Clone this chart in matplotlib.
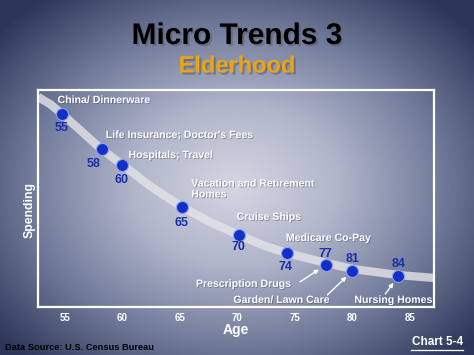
import numpy as np
import matplotlib
matplotlib.use("Agg")
import matplotlib.pyplot as plt
import matplotlib.patheffects as pe
from matplotlib.colors import LinearSegmentedColormap

# ---- data ----
ages = [55, 58, 60, 65, 70, 74, 77, 81, 84]
age_pos = [54.7, 58.2, 60.0, 65.2, 70.1, 74.3, 77.7, 80.0, 84.0]
spending = [88.9, 72.8, 65.4, 46.1, 33.2, 24.9, 19.4, 16.6, 14.3]
items = ["China/ Dinnerware", "Life Insurance; Doctor's Fees", "Hospitals; Travel",
         "Vacation and Retirement\nHomes", "Cruise Ships", "Medicare Co-Pay",
         "Prescription Drugs", "Garden/ Lawn Care", "Nursing Homes"]
trend_age = [52.65, 53.7, 54.65, 56.3, 58.13, 60.04, 62.39, 65.17, 67.6, 70.13,
             72.39, 74.3, 77.7, 80.04, 84.04, 87.09]
trend_spend = [96.8, 93.5, 89.4, 81.6, 72.8, 65.4, 55.8, 46.1, 39.2, 33.2,
               28.1, 24.9, 20.3, 17.5, 14.7, 13.4]
xticks = [55, 60, 65, 70, 75, 80, 85]

W, H = 474, 355
fig = plt.figure(figsize=(W / 100, H / 100), dpi=100)

# background radial gradient
bg = fig.add_axes([0, 0, 1, 1])
yy, xx = np.mgrid[0:H, 0:W]
r = np.sqrt(((xx - 235) / 310.0) ** 2 + ((yy - 185) / 240.0) ** 2)
r = np.clip(r, 0, 1)
cmap = LinearSegmentedColormap.from_list("bg", ["#d4d6e2", "#b0b5ca", "#707a9a", "#2c3658"])
bg.imshow(r, cmap=cmap, aspect="auto", extent=[0, W, H, 0], vmin=0, vmax=1)
bg.set_xlim(0, W)
bg.set_ylim(H, 0)
bg.axis("off")

ax = fig.add_axes([38 / W, 1 - 307 / H, 396 / W, 217 / H])
ax.set_facecolor("none")
ax.set_xlim(52.65, 87.1)
ax.set_ylim(0, 100)
for s in ax.spines.values():
    s.set_color("white")
    s.set_linewidth(1.6)
ax.set_yticks([])
ax.set_xticks(xticks)
ax.set_xticklabels([str(t) for t in xticks], color="white", fontsize=7,
                   fontweight="bold", family="Liberation Sans")
ax.tick_params(axis="x", length=0, pad=4)

ax.plot(trend_age, trend_spend, color="#e4e4e8", lw=6, alpha=0.8,
        solid_capstyle="butt", solid_joinstyle="round", zorder=2)
ax.scatter(age_pos, spending, s=75, color="#1230c8", edgecolor="#8fa0e8",
           linewidth=0.8, zorder=3)

lab = dict(color="white", fontsize=7.6, fontweight="bold", family="Liberation Sans",
           path_effects=[pe.withSimplePatchShadow(offset=(0.6, -0.6), shadow_rgbFace="#404860", alpha=0.5)])
num = dict(color="#1a2fa8", fontsize=9, fontweight="bold", family="Liberation Sans")

# (dx, dy) offsets in pixels for item labels, and number labels
item_off = [(-4, 14), (4, 14), (6, 10), (9, 18), (-2, 18), (-1, 15), None, None, None]
num_off = [(0, -14), (-8, -15), (-1, -15), (-1, -16), (0, -12), (-1, -14), (-1, 11), (0, 12), (0, 12)]
for i in range(len(ages)):
    ax.annotate(str(ages[i]), (age_pos[i], spending[i]), xytext=num_off[i],
                textcoords="offset pixels", ha="center", va="center", **num)
    if item_off[i] is not None:
        ax.annotate(items[i], (age_pos[i], spending[i]), xytext=item_off[i],
                    textcoords="offset pixels", ha="left", va="center",
                    linespacing=1.1, **lab)

# arrowed labels
arrow_lab = {6: (-130, -19), 7: (-119, -29), 8: (-44, -24)}
arrow_tail = {6: (-26, -17), 7: (-25, -24), 8: (-13, -18)}
for i, (dx, dy) in arrow_lab.items():
    ax.annotate(items[i], (age_pos[i], spending[i]), xytext=(dx, dy),
                textcoords="offset pixels", ha="left", va="center", **lab)
    tx, ty = arrow_tail[i]
    ax.annotate("", (age_pos[i], spending[i]), xytext=(tx, ty),
                textcoords="offset pixels",
                arrowprops=dict(arrowstyle="-|>", color="white", lw=1.0,
                                mutation_scale=6, shrinkB=6, shrinkA=0))

ax.set_xlabel("Age", color="white", fontsize=10, fontweight="bold",
              family="Liberation Sans", labelpad=0)
ax.set_ylabel("Spending", color="white", fontsize=8.8, fontweight="bold",
              family="Liberation Sans")
ax.yaxis.set_label_coords(-0.005, 0.449)

shadow = [pe.withSimplePatchShadow(offset=(1.5, -1.5), shadow_rgbFace="#606070", alpha=0.6)]
fig.text(237 / W, 1 - 36 / H, "Micro Trends 3", ha="center", va="center",
         fontsize=21.5, fontweight="bold", family="Liberation Sans", color="black",
         path_effects=shadow)
fig.text(237 / W, 1 - 66 / H, "Elderhood", ha="center", va="center",
         fontsize=17, fontweight="bold", family="Liberation Sans", color="#e8a514",
         path_effects=shadow)
fig.text(5 / W, 1 - 347 / H, "Data Source: U.S. Census Bureau", ha="left", va="center",
         fontsize=6.7, fontweight="bold", family="Liberation Sans", color="black")
fig.text(463 / W, 1 - 342 / H, "Chart 5-4", ha="right", va="center",
         fontsize=8.5, fontweight="bold", family="Liberation Sans", color="white")
fig.add_artist(plt.Line2D([411 / W, 463 / W], [1 - 350 / H, 1 - 350 / H],
                          color="white", lw=0.9))

fig.savefig("out.png", dpi=100)
